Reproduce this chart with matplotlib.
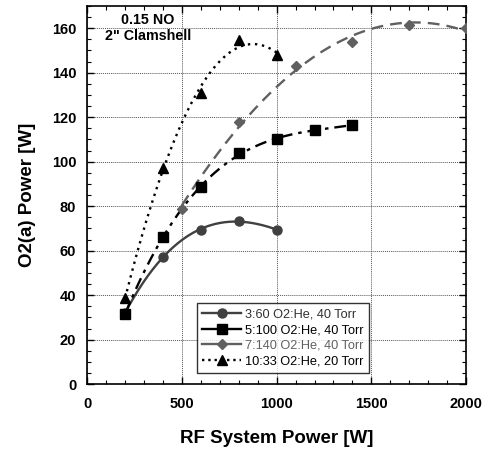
import matplotlib
matplotlib.use("Agg")
import matplotlib.pyplot as plt
from matplotlib.lines import Line2D
from matplotlib.ticker import MultipleLocator
import numpy as np

plt.rcParams['font.family'] = ['Liberation Sans', 'DejaVu Sans']

# data
rf_a = [200, 400, 600, 800, 1000]
o2_a = [32, 57.3, 69.4, 73.3, 69.4]

rf_b = [200, 400, 600, 800, 1000, 1200, 1400]
o2_b = [31.6, 66.3, 88.4, 103.7, 110.2, 114, 116.5]

rf_c = [500, 800, 1100, 1400, 1700, 2000]
o2_c = [78.6, 118, 143, 153.8, 161.3, 160]

rf_d = [200, 400, 600, 800, 1000]
o2_d = [38.8, 97, 130.8, 154.8, 147.8]

labels = ["3:60 O2:He, 40 Torr", "5:100 O2:He, 40 Torr",
          "7:140 O2:He, 40 Torr", "10:33 O2:He, 20 Torr"]

fig = plt.figure(figsize=(4.82, 4.53), dpi=100)
ax = fig.add_axes([0.181, 0.152, 0.786, 0.835])

series = [
    (rf_a, o2_a, 'o', '#404040', '-', 6.5, 3),
    (rf_b, o2_b, 's', 'black', (0, (5, 2.5, 1.5, 2.5)), 6.5, 3),
    (rf_c, o2_c, 'D', '#606060', (0, (5, 3)), 5, 2),
    (rf_d, o2_d, '^', 'black', (0, (1, 2)), 6.5, 2),
]

handles = []
for (xs, ys, mk, col, ls, ms, deg), lab in zip(series, labels):
    # trendline (Excel-style polynomial fit)
    coef = np.polyfit(xs, ys, deg)
    xx = np.linspace(min(xs), max(xs), 200)
    ax.plot(xx, np.polyval(coef, xx), color=col, ls=ls, lw=1.7, zorder=2)
    ax.plot(xs, ys, ls='none', marker=mk, color=col, ms=ms, zorder=3)
    hls = ':' if mk == '^' else '-'
    handles.append(Line2D([], [], color=col, ls=hls, lw=1.7, marker=mk, ms=ms))

ax.set_xlim(0, 2000)
ax.set_ylim(0, 170)
ax.xaxis.set_major_locator(MultipleLocator(500))
ax.xaxis.set_minor_locator(MultipleLocator(100))
ax.yaxis.set_major_locator(MultipleLocator(20))
ax.yaxis.set_minor_locator(MultipleLocator(5))
ax.tick_params(which='both', direction='in', top=True, right=True)
ax.tick_params(which='major', length=5, width=1, labelsize=10.5)
ax.tick_params(axis='x', which='major', pad=9)
ax.tick_params(axis='y', which='major', pad=8)
ax.tick_params(which='minor', length=3, width=0.8)
for lbl in ax.get_xticklabels() + ax.get_yticklabels():
    lbl.set_fontweight('bold')
ax.grid(True, which='major', ls=(0, (1, 1)), color='#555555', lw=0.7)
for s in ax.spines.values():
    s.set_linewidth(1.2)

ax.set_xlabel("RF System Power [W]", fontsize=13.5, fontweight='bold', labelpad=14)
ax.set_ylabel("O2(a) Power [W]", fontsize=13.5, fontweight='bold', labelpad=11)

ax.text(321, 160, '0.15 NO\n2" Clamshell', fontsize=10.3, fontweight='bold',
        ha='center', va='center', linespacing=1.15)

leg = ax.legend(handles, labels, loc='lower left', bbox_to_anchor=(0.272, 0.012),
                fontsize=9.2, frameon=True, fancybox=False, edgecolor='black',
                handlelength=3, handletextpad=0.3, borderpad=0.45, labelspacing=0.28)
leg.get_frame().set_linewidth(1)
for t, c in zip(leg.get_texts(), ['#303030', 'black', '#606060', 'black']):
    t.set_color(c)

fig.savefig("out.png", dpi=100)
